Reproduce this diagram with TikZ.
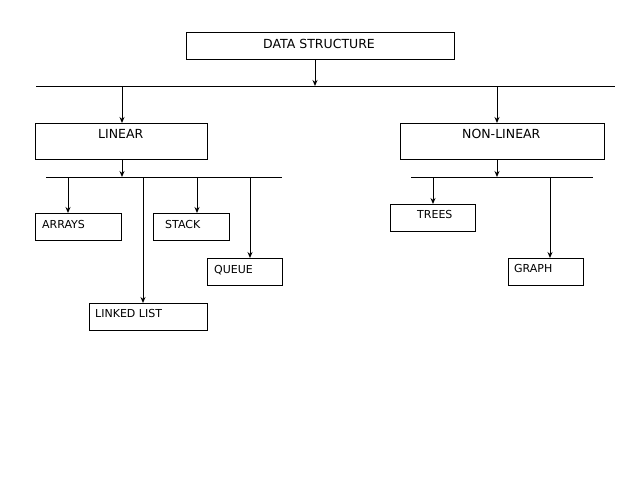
\documentclass[tikz,border=0pt]{standalone}
\usepackage{fontspec}
\setmainfont{DejaVu Sans}
\usetikzlibrary{arrows.meta}
\begin{document}
\begin{tikzpicture}[x=1pt,y=-1pt,
  box/.style={draw=black, line width=1pt, inner sep=0pt, anchor=north west},
  big/.style={inner sep=0pt, anchor=base west, font=\fontsize{12.5}{14}\selectfont},
  small/.style={inner sep=0pt, anchor=base west, font=\fontsize{11}{13}\selectfont},
  bus/.style={line width=1pt},
  arr/.style={line width=1pt, -{Stealth[length=6pt,width=5pt]}}]
\useasboundingbox (0,0) rectangle (638,479);
% boxes
\node[box, minimum width=268, minimum height=27] (ds) at (186,32) {};
\node[box, minimum width=172, minimum height=36] (lin) at (35,123) {};
\node[box, minimum width=204, minimum height=36] (nlin) at (400,123) {};
\node[box, minimum width=86, minimum height=27] (arrays) at (35,213) {};
\node[box, minimum width=76, minimum height=27] (stack) at (153,213) {};
\node[box, minimum width=75, minimum height=27] (queue) at (207,258) {};
\node[box, minimum width=118, minimum height=27] (ll) at (89,303) {};
\node[box, minimum width=85, minimum height=27] (trees) at (390,204) {};
\node[box, minimum width=75, minimum height=27] (graph) at (508,258) {};
% texts
\node[big] (dst) at (263,48) {DATA STRUCTURE};
\node[big] (lint) at (98,138) {LINEAR};
\node[big] (nlint) at (462,138) {NON-LINEAR};
\node[small] (arrayst) at (42,228) {ARRAYS};
\node[small] (stackt) at (165,228) {STACK};
\node[small] (queuet) at (214,273) {QUEUE};
\node[small] (llt) at (95,317) {LINKED LIST};
\node[small] (treest) at (417,218) {TREES};
\node[small] (grapht) at (514,272) {GRAPH};
% buses
\coordinate (b1l) at (36,86);
\coordinate (b1r) at (615,86);
\coordinate (b2l) at (46,177);
\coordinate (b2r) at (282,177);
\coordinate (b3l) at (411,177);
\coordinate (b3r) at (593,177);
\draw[bus] (b1l) -- (b1r);
\draw[bus] (b2l) -- (b2r);
\draw[bus] (b3l) -- (b3r);
% top arrows
\coordinate (dsb) at (315,59);
\draw[arr] (dsb) -- (dsb |- b1l);
\coordinate (t1) at (122,86);
\draw[arr] (t1) -- (t1 |- lin.north);
\coordinate (t2) at (497,86);
\draw[arr] (t2) -- (t2 |- nlin.north);
\coordinate (lb) at (122,159);
\draw[arr] (lb) -- (lb |- b2l);
\coordinate (nb) at (497,159);
\draw[arr] (nb) -- (nb |- b3l);
% child arrows
\coordinate (c1) at (68,177);
\draw[arr] (c1) -- (c1 |- arrays.north);
\coordinate (c2) at (143,177);
\draw[arr] (c2) -- (c2 |- ll.north);
\coordinate (c3) at (197,177);
\draw[arr] (c3) -- (c3 |- stack.north);
\coordinate (c4) at (250,177);
\draw[arr] (c4) -- (c4 |- queue.north);
\coordinate (c5) at (433,177);
\draw[arr] (c5) -- (c5 |- trees.north);
\coordinate (c6) at (550,177);
\draw[arr] (c6) -- (c6 |- graph.north);
\end{tikzpicture}
\end{document}
